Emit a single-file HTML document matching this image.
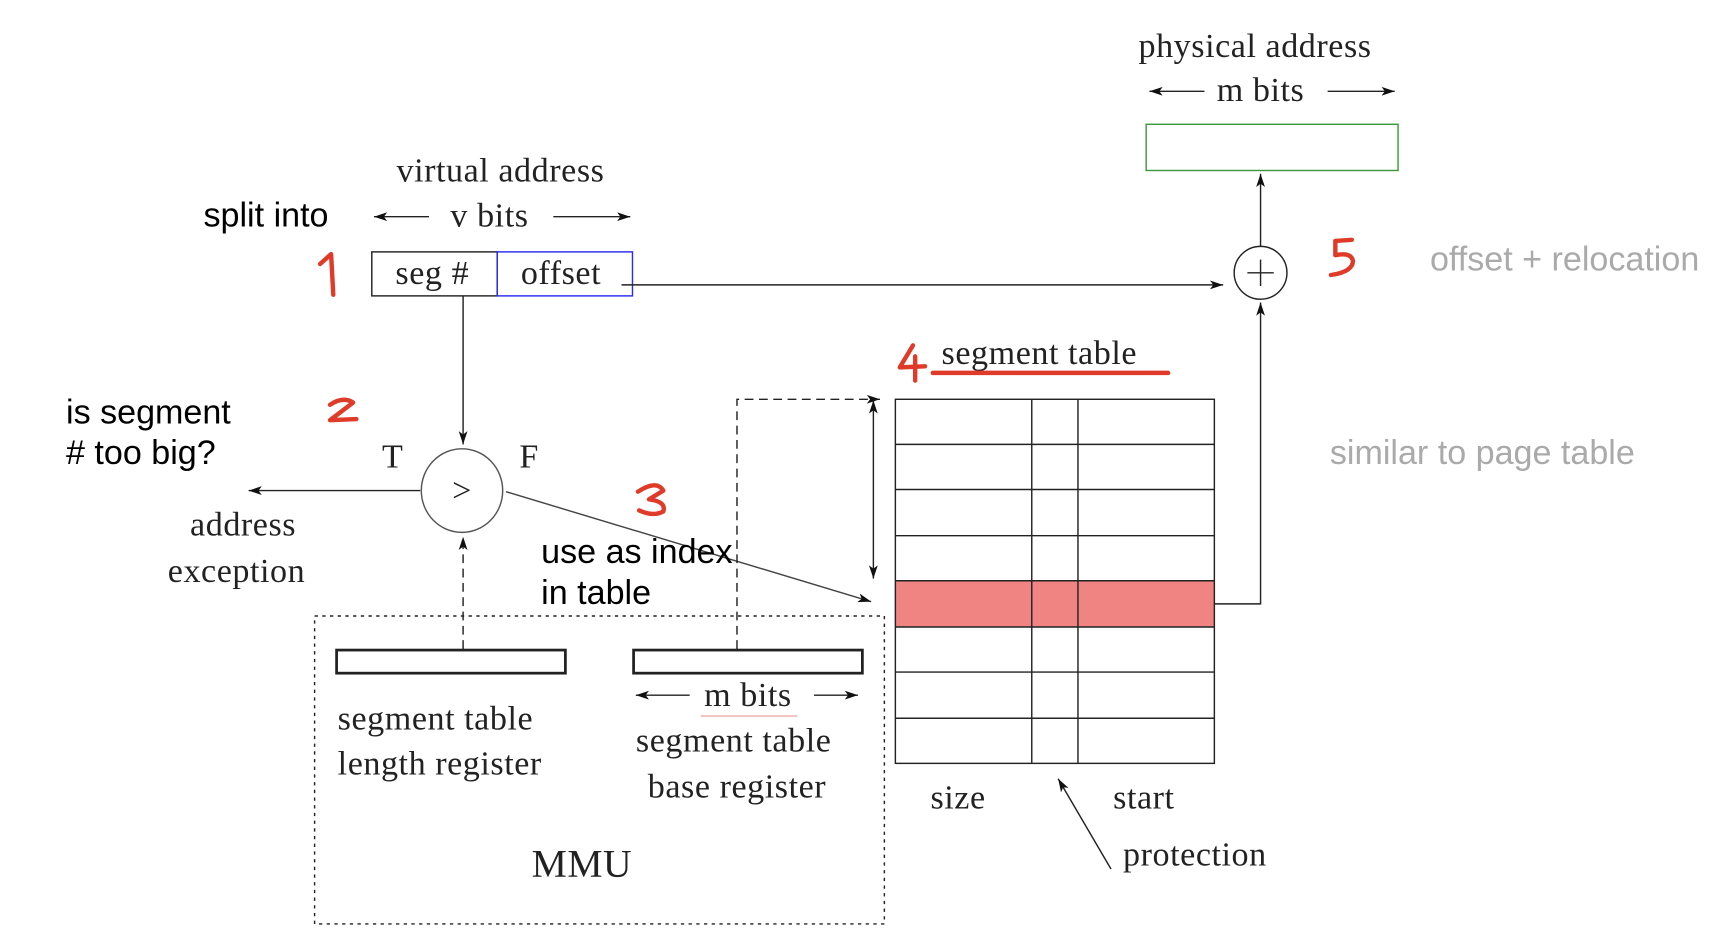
<!DOCTYPE html>
<html><head><meta charset="utf-8"><style>
html,body{margin:0;padding:0;background:#fff;width:1722px;height:942px;overflow:hidden}
svg{display:block}
.s{font-family:"Liberation Serif",serif;font-size:31px;fill:#222;letter-spacing:0.5px}
.a{font-family:"Liberation Sans",sans-serif;font-size:31px;fill:#000}
.g{font-family:"Liberation Sans",sans-serif;font-size:31px;fill:#aaa}
.r{stroke:#e03a28;stroke-width:4;fill:none;stroke-linecap:round;stroke-linejoin:round}
</style></head><body>
<svg width="1722" height="942" viewBox="0 0 1565.5 856.4" xmlns="http://www.w3.org/2000/svg">
<defs>
<marker id="ah" viewBox="0 0 12 8" refX="12" refY="4" markerWidth="12" markerHeight="8" markerUnits="userSpaceOnUse" orient="auto">
<path d="M0,0 L12,4 L0,8 L3,4 Z" fill="#111"/></marker>
</defs>
<g stroke="#222" stroke-width="1.3" fill="none">
<line x1="1095" y1="83" x2="1045" y2="83" marker-end="url(#ah)"/>
<line x1="1207" y1="83" x2="1268" y2="83" marker-end="url(#ah)"/>
<rect x="1042" y="113" width="229" height="42" stroke="#3a9a3a"/>
<line x1="1146" y1="224" x2="1146" y2="158" marker-end="url(#ah)"/>
<circle cx="1146" cy="248" r="24"/>
<line x1="1134" y1="248" x2="1158" y2="248"/><line x1="1146" y1="236" x2="1146" y2="260"/>
<line x1="390" y1="197" x2="340" y2="197" marker-end="url(#ah)"/>
<line x1="503" y1="197" x2="573" y2="197" marker-end="url(#ah)"/>
<rect x="338" y="229" width="114" height="40"/>
<rect x="452" y="229" width="123" height="40" stroke="#2a2af0"/>
<line x1="565" y1="259" x2="1112" y2="259" marker-end="url(#ah)"/>
<line x1="421" y1="269" x2="421" y2="404" marker-end="url(#ah)"/>
<ellipse cx="420" cy="446" rx="37" ry="38" stroke="#555"/>
<line x1="382" y1="446" x2="226" y2="446" marker-end="url(#ah)"/>
<line x1="460" y1="447" x2="792" y2="547" marker-end="url(#ah)" stroke="#444"/>
<line x1="421" y1="590" x2="421" y2="488" stroke-dasharray="8,5" marker-end="url(#ah)"/>
<polyline points="670,590 670,363 800,363" stroke-dasharray="8,5" marker-end="url(#ah)"/>
<line x1="794" y1="380" x2="794" y2="364" marker-end="url(#ah)"/>
<line x1="794" y1="380" x2="794" y2="526" marker-end="url(#ah)"/>
<rect x="814" y="528" width="290" height="42" fill="#ef8482" stroke="none"/>
<rect x="814" y="363" width="290" height="331"/>
<line x1="938" y1="363" x2="938" y2="694"/><line x1="980" y1="363" x2="980" y2="694"/>
<line x1="814" y1="404" x2="1104" y2="404"/><line x1="814" y1="445" x2="1104" y2="445"/>
<line x1="814" y1="487" x2="1104" y2="487"/><line x1="814" y1="528" x2="1104" y2="528"/>
<line x1="814" y1="570" x2="1104" y2="570"/><line x1="814" y1="611" x2="1104" y2="611"/>
<line x1="814" y1="653" x2="1104" y2="653"/>
<polyline points="1104,549 1146,549 1146,275" marker-end="url(#ah)"/>
<rect x="286" y="560" width="518" height="280" stroke-dasharray="3,4"/>
<rect x="306" y="591" width="208" height="21" stroke-width="2.5"/>
<rect x="576" y="591" width="208" height="21" stroke-width="2.5"/>
<line x1="627" y1="632" x2="578" y2="632" marker-end="url(#ah)"/>
<line x1="740" y1="632" x2="780" y2="632" marker-end="url(#ah)"/>
<line x1="637" y1="651" x2="725" y2="651" stroke="#f2c8c4" stroke-width="2"/>
<line x1="1010" y1="790" x2="962" y2="708" marker-end="url(#ah)"/>
</g>
<text class="s" x="1141" y="52" text-anchor="middle">physical address</text>
<text class="s" x="1146" y="92" text-anchor="middle">m bits</text>
<text class="g" x="1300" y="246">offset + relocation</text>
<text class="g" x="1209" y="422">similar to page table</text>
<text class="s" x="455" y="165" text-anchor="middle">virtual address</text>
<text class="a" x="185" y="206">split into</text>
<text class="s" x="445" y="206" text-anchor="middle">v bits</text>
<text class="s" x="393" y="258" text-anchor="middle">seg #</text>
<text class="s" x="510" y="258" text-anchor="middle">offset</text>
<text class="a" x="60" y="385">is segment</text>
<text class="a" x="60" y="422"># too big?</text>
<text class="s" x="357" y="425" text-anchor="middle">T</text>
<text class="s" x="481" y="425" text-anchor="middle">F</text>
<text class="s" x="420" y="456" text-anchor="middle">&gt;</text>
<text class="s" x="221" y="487" text-anchor="middle">address</text>
<text class="s" x="215" y="529" text-anchor="middle">exception</text>
<text class="a" x="492" y="512">use as index</text>
<text class="a" x="492" y="549">in table</text>
<text class="s" x="856" y="331">segment table</text>
<text class="s" x="307" y="663">segment table</text>
<text class="s" x="307" y="704">length register</text>
<text class="s" x="680" y="642" text-anchor="middle">m bits</text>
<text class="s" x="667" y="683" text-anchor="middle">segment table</text>
<text class="s" x="670" y="725" text-anchor="middle">base register</text>
<text class="s" x="529" y="797" text-anchor="middle" style="font-size:36px">MMU</text>
<text class="s" x="871" y="735" text-anchor="middle">size</text>
<text class="s" x="1012" y="735">start</text>
<text class="s" x="1021" y="787">protection</text>
<path class="r" d="M291,240 L301,231 L303,268"/>
<path class="r" d="M300,368 Q312,360 321,366 L300,382 L324,381"/>
<path class="r" d="M580,447 Q597,436 603,446 L590,454 Q606,456 603,465 Q594,470 581,464"/>
<path class="r" d="M830,314 L818,334 L841,333 M832,324 L832,346"/>
<line class="r" x1="848" y1="339" x2="1062" y2="339" stroke-width="3"/>
<path class="r" d="M1229,218 L1214,219 L1214,232 Q1228,229 1230,237 Q1230,247 1210,250"/>
</svg>
</body></html>
